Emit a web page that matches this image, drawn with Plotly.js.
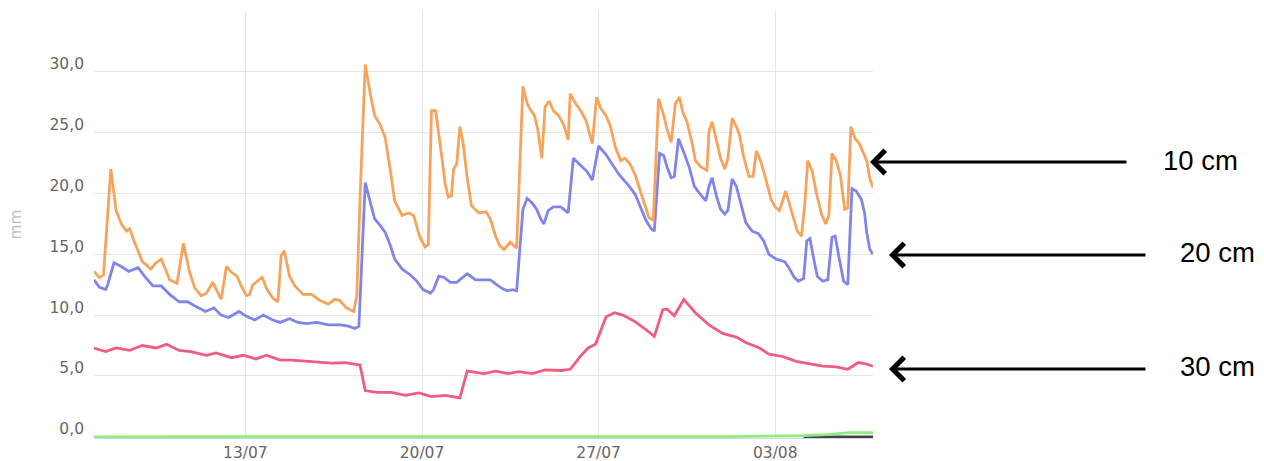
<!DOCTYPE html>
<html>
<head>
<meta charset="utf-8">
<script src="https://cdn.plot.ly/plotly-3.0.1.min.js"></script>
<style>
  html, body { margin: 0; padding: 0; background: #fff; }
  #chart { width: 1264px; height: 461px; }
</style>
</head>
<body>
<div id="chart"></div>
<script>
// hours since 07/07 00:00, and soil moisture (mm) per depth
var h10 = [0,5,9,16,21,26,31,34,38,46,54,59,64,72,79,85,91,96,102,107,113,116,121,126,131,136,140,145,148,151,160,164,170,175,178,181,186,191,199,207,215,223,229,234,240,247,250,253,258,263,267,272,277,282,286,293,299,304,310,315,318,321,325,331,334,337,340,342,345,348,351,355,359,366,373,377,382,386,390,396,402,408,412,415,419,422,426,429,433,437,442,447,451,453,458,463,468,474,478,482,487,491,496,501,505,510,515,520,525,528,532,537,542,545,549,553,557,560,564,569,572,577,583,585,588,593,596,600,603,607,611,614,618,623,627,630,634,639,644,648,652,658,661,665,669,673,676,679,683,687,692,696,699,702,706,710,714,717,720,724,728,731,735,738,741];
var v10 = [13.6,13.1,13.3,22.0,18.6,17.5,16.9,17.1,16.1,14.4,13.8,14.3,14.6,12.9,12.6,15.9,13.5,12.2,11.6,11.8,12.7,12.2,11.3,14.0,13.5,13.2,12.4,11.6,11.7,12.5,13.1,12.2,11.4,11.1,14.9,15.3,13.2,12.4,11.7,11.7,11.2,10.9,11.3,11.2,10.6,10.3,11.6,19.5,30.6,28.1,26.4,25.7,24.6,21.8,19.4,18.2,18.4,18.2,16.4,15.6,15.8,26.8,26.8,22.9,20.8,19.7,19.8,22.0,22.4,25.5,24.2,21.3,19.0,18.4,18.5,17.9,16.5,15.7,15.4,16.0,15.5,28.8,27.4,26.9,26.4,25.3,22.9,27.1,27.6,26.8,26.4,25.6,24.4,28.2,27.4,26.8,26.0,24.1,27.9,27.0,26.4,25.6,23.8,22.7,22.9,22.4,21.5,20.1,18.7,18.0,17.8,27.8,26.4,25.3,24.2,27.4,27.9,26.7,25.9,24.1,22.7,22.2,21.9,25.1,25.9,24.1,22.9,22.0,22.9,26.2,25.5,24.8,23.0,21.4,21.4,23.5,22.7,21.2,19.5,18.9,18.6,20.2,19.3,17.9,16.9,16.5,19.0,22.7,21.9,20.1,18.3,17.5,18.2,23.3,22.7,21.5,18.7,18.8,25.5,24.5,24.1,23.5,22.7,21.2,20.5];

var h20 = [0,5,11,13,19,26,33,42,48,56,64,72,81,89,97,106,114,121,128,138,145,153,161,170,177,186,194,202,212,223,234,242,248,252,258,263,267,272,277,282,286,293,301,307,313,320,323,328,333,339,345,355,363,371,377,383,388,393,398,402,408,412,417,421,425,428,432,437,444,451,456,463,469,474,480,487,493,499,504,509,515,520,525,530,533,538,542,545,549,552,556,561,566,571,576,582,585,588,592,596,600,603,607,611,615,620,626,632,637,642,649,657,661,666,670,675,678,681,684,688,693,698,702,705,709,713,717,721,725,730,733,735,738,741];
var v20 = [12.9,12.3,12.1,12.5,14.3,14.0,13.6,13.9,13.2,12.4,12.4,11.7,11.1,11.1,10.7,10.3,10.6,10.0,9.8,10.3,9.9,9.6,10.0,9.6,9.4,9.7,9.4,9.3,9.4,9.2,9.2,9.1,8.9,9.1,20.9,19.3,17.9,17.4,16.8,15.7,14.6,13.8,13.3,12.8,12.1,11.8,12.1,13.2,13.1,12.7,12.7,13.4,12.9,12.9,12.9,12.5,12.2,12.0,12.1,12.0,18.7,19.6,19.2,18.7,17.9,17.5,18.6,18.9,18.9,18.4,22.9,22.3,21.8,21.1,23.9,23.2,22.4,21.6,21.1,20.6,19.9,18.9,17.8,17.1,16.9,23.3,23.1,22.2,21.3,21.4,24.5,23.4,22.2,20.6,20.0,19.4,20.6,21.3,19.8,18.7,18.3,18.6,21.2,20.6,19.3,17.6,16.9,16.7,16.1,15.0,14.6,14.4,13.9,13.1,12.8,13.0,16.1,16.3,14.9,13.2,12.8,12.9,16.4,16.5,14.6,12.8,12.5,20.4,20.2,19.5,18.4,16.8,15.4,15.0];

var h30 = [0,11,21,34,46,59,69,81,92,107,116,131,142,154,164,177,188,201,213,226,239,253,258,269,283,296,309,321,334,348,355,371,382,394,404,417,429,444,453,463,470,477,487,495,503,514,525,533,541,545,552,561,572,585,598,611,620,633,642,655,668,680,693,706,717,727,734,741];
var v30 = [7.3,7.0,7.3,7.1,7.5,7.3,7.6,7.1,7.0,6.7,6.9,6.5,6.7,6.4,6.7,6.3,6.3,6.2,6.1,6.05,6.1,5.9,3.8,3.65,3.65,3.4,3.6,3.3,3.4,3.2,5.4,5.2,5.4,5.2,5.35,5.2,5.5,5.45,5.55,6.65,7.3,7.6,9.85,10.2,10.0,9.5,8.8,8.25,10.45,10.5,9.95,11.3,10.2,9.2,8.5,8.2,7.75,7.3,6.8,6.6,6.2,6.0,5.8,5.75,5.55,6.1,6.0,5.8];

var hDark = [675,741];
var vDark = [0,0];

var hGreen = [0,500,600,675,698,718,741];
var vGreen = [0,0,0.02,0.1,0.18,0.35,0.35];

var yTickVals = [0,5,10,15,20,25,30,35];
var yTickText = ['0,0','5,0','10,0','15,0','20,0','25,0','30,0',''];

var t0 = Date.UTC(2021, 6, 7);
function toTime(hours) {
  return hours.map(function (h) {
    return new Date(t0 + h * 3600000).toISOString().slice(0, 16).replace('T', ' ');
  });
}

function line(h, v, color) {
  return {
    x: toTime(h),
    y: v,
    type: 'scatter',
    mode: 'lines',
    line: {color: color, width: 2.8},
    hoverinfo: 'skip',
    showlegend: false
  };
}

var data = [
  line(h30, v30, '#f15c80'),
  line(h20, v20, '#8085e9'),
  line(h10, v10, '#f7a35c'),
  line(hDark, vDark, '#434348'),
  line(hGreen, vGreen, '#90ed7d')
];

var tickFont = {family: 'DejaVu Sans, sans-serif', size: 15.5, color: '#666666'};
var noteFont = {family: 'Liberation Sans, Arial, sans-serif', size: 27.5, color: '#000000'};

function arrow(x, y) {
  return {
    xref: 'paper', yref: 'paper', x: x, y: y,
    text: '', showarrow: true, ax: 258, ay: 0,
    arrowhead: 4, arrowwidth: 3, arrowsize: 1.5, arrowcolor: '#000000'
  };
}
function note(x, y, txt) {
  return {
    xref: 'paper', yref: 'paper', x: x, y: y,
    text: txt, showarrow: false, font: noteFont,
    xanchor: 'center', yanchor: 'middle'
  };
}

var layout = {
  width: 1264,
  height: 461,
  margin: {l: 94, r: 391, t: 11, b: 23},
  paper_bgcolor: '#ffffff',
  plot_bgcolor: '#ffffff',
  separators: ', ',
  showlegend: false,
  xaxis: {
    type: 'date',
    range: [toTime([0])[0], toTime([741])[0]],
    tick0: '2021-07-13',
    dtick: 7 * 86400000,
    tickformat: '%d/%m',
    showgrid: true,
    gridcolor: '#e6e6e6',
    gridwidth: 1,
    zeroline: false,
    showline: true,
    linecolor: '#ccd6eb',
    linewidth: 1,
    ticks: '',
    tickfont: tickFont,
    ticklabelstandoff: 0
  },
  yaxis: {
    range: [-0.1, 35],
    tickmode: 'array',
    tickvals: yTickVals,
    ticktext: yTickText,
    showgrid: true,
    gridcolor: '#e6e6e6',
    gridwidth: 1,
    zeroline: false,
    showline: false,
    ticks: '',
    tickfont: tickFont,
    ticklabelstandoff: 9,
    ticklabelshift: -8,
    title: {text: 'mm', font: {family: 'DejaVu Sans, sans-serif', size: 15.5, color: '#c0c0c0'}, standoff: 24}
  },
  annotations: [
    arrow(0.9961, 0.6464),
    arrow(1.0205, 0.4286),
    arrow(1.0205, 0.1616),
    note(1.4204, 0.651, '10 cm'),
    note(1.4422, 0.4333, '20 cm'),
    note(1.4422, 0.1663, '30 cm')
  ]
};

Plotly.newPlot('chart', data, layout, {displayModeBar: false, staticPlot: true});
</script>
</body>
</html>
